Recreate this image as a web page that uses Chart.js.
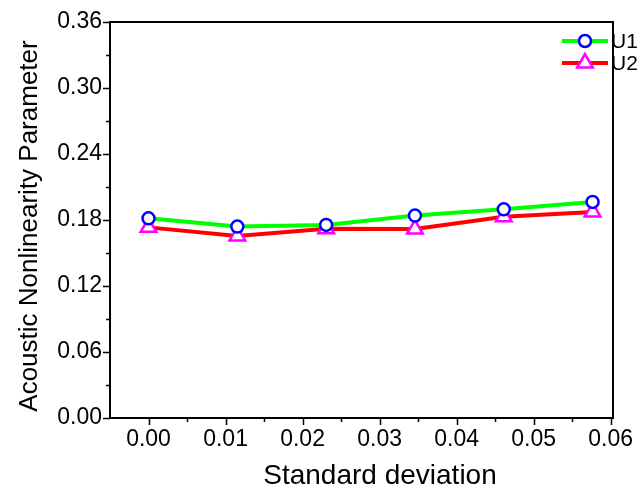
<!DOCTYPE html>
<html>
<head>
<meta charset="utf-8">
<script src="https://cdn.jsdelivr.net/npm/chart.js@4"></script>
<style>
  html, body { margin: 0; padding: 0; background: #fff; }
  #wrap { width: 643px; height: 495px; }
</style>
</head>
<body>
<div id="wrap"><canvas id="chart" width="643" height="495"></canvas></div>
<script>
// values
const stdDev = [0, 0.01153, 0.02306, 0.03459, 0.04612, 0.05765];
const u1 = [0.1815, 0.174, 0.1755, 0.184, 0.1897, 0.1964];
const u2 = [0.1733, 0.1655, 0.1721, 0.1718, 0.183, 0.1873];
const seriesNames = ["U1", "U2"];
const xTicks = [0, 0.01, 0.02, 0.03, 0.04, 0.05, 0.06];
const yTicks = [0, 0.06, 0.12, 0.18, 0.24, 0.30, 0.36];
const xTitle = "Standard deviation";
const yTitle = "Acoustic Nonlinearity Parameter";

const FONT = "'Liberation Sans', Arial, sans-serif";

const toPoints = (ys) => stdDev.map((x, i) => ({ x: x, y: ys[i] }));

// frame, major/minor ticks, axis titles and the little legend
const framePlugin = {
  id: "frame",
  afterDraw(chart) {
    const { ctx, chartArea: a, scales } = chart;
    ctx.save();
    ctx.strokeStyle = "#000";
    ctx.lineWidth = 2;
    ctx.strokeRect(a.left, a.top, a.right - a.left, a.bottom - a.top);

    ctx.lineWidth = 1.5;
    // x ticks, every 0.005
    for (let i = 0; i <= 12; i++) {
      const px = Math.round(scales.x.getPixelForValue(i * 0.005)) + 0.5;
      const len = i % 2 === 0 ? 7 : 4;
      ctx.beginPath();
      ctx.moveTo(px, a.bottom);
      ctx.lineTo(px, a.bottom + len);
      ctx.stroke();
    }
    // y ticks, every 0.03
    for (let i = 0; i <= 12; i++) {
      const py = Math.round(scales.y.getPixelForValue(i * 0.03)) + 0.5;
      const len = i % 2 === 0 ? 7 : 4;
      ctx.beginPath();
      ctx.moveTo(a.left, py);
      ctx.lineTo(a.left - len, py);
      ctx.stroke();
    }

    // axis titles (the original sits a bit off-centre)
    ctx.fillStyle = "#000";
    ctx.textAlign = "center";
    ctx.textBaseline = "middle";
    ctx.font = "28px " + FONT;
    ctx.fillText(xTitle, 380, 476);
    ctx.save();
    ctx.translate(30, 226);
    ctx.rotate(-Math.PI / 2);
    ctx.font = "26px " + FONT;
    ctx.fillText(yTitle, 0, 0);
    ctx.restore();

    // legend: line + marker + name
    const lx = a.right - 51, rowY = [a.top + 19, a.top + 41];
    chart.data.datasets.forEach((ds, i) => {
      const y = rowY[i];
      ctx.strokeStyle = ds.borderColor;
      ctx.lineWidth = ds.borderWidth;
      ctx.beginPath();
      ctx.moveTo(lx, y);
      ctx.lineTo(lx + 46, y);
      ctx.stroke();
      ctx.strokeStyle = ds.pointBorderColor;
      ctx.fillStyle = ds.pointBackgroundColor;
      ctx.lineWidth = ds.pointBorderWidth;
      Chart.helpers.drawPoint(ctx, {
        pointStyle: ds.pointStyle,
        radius: ds.pointRadius,
        borderWidth: ds.pointBorderWidth,
        rotation: 0
      }, lx + 23, y);
      ctx.fillStyle = "#000";
      ctx.font = "21px " + FONT;
      ctx.textBaseline = "middle";
      ctx.textAlign = "left";
      ctx.fillText(seriesNames[i], lx + 49, y + 1);
    });
    ctx.restore();
  }
};

new Chart(document.getElementById("chart"), {
  type: "line",
  data: {
    datasets: [
      {
        label: seriesNames[0],
        data: toPoints(u1),
        borderColor: "#00ff00",
        borderWidth: 4,
        pointStyle: "circle",
        pointRadius: 6,
        pointBorderWidth: 2.5,
        pointBorderColor: "#0000ff",
        pointBackgroundColor: "#ffffff",
        tension: 0
      },
      {
        label: seriesNames[1],
        data: toPoints(u2),
        borderColor: "#ff0000",
        borderWidth: 4,
        pointStyle: "triangle",
        pointRadius: 9,
        pointBorderWidth: 2.5,
        pointBorderColor: "#ff00ff",
        pointBackgroundColor: "#ffffff",
        tension: 0
      }
    ]
  },
  options: {
    responsive: false,
    animation: false,
    layout: { padding: { left: 0, top: 22, right: 30, bottom: 0 } },
    plugins: {
      legend: { display: false },
      tooltip: { enabled: false }
    },
    scales: {
      x: {
        type: "linear",
        min: -0.005,
        max: 0.0603,
        afterBuildTicks: (s) => { s.ticks = xTicks.map(v => ({ value: v })); },
        afterFit: (s) => { s.height = 77; },
        grid: { drawOnChartArea: false, drawTicks: false },
        border: { color: "#000", width: 2 },
        ticks: {
          padding: 8,
          color: "#000",
          font: { family: FONT, size: 23 },
          callback: (v) => v.toFixed(2)
        },
        title: { display: false }
      },
      y: {
        type: "linear",
        min: 0,
        max: 0.36,
        afterBuildTicks: (s) => { s.ticks = yTicks.map(v => ({ value: v })); },
        afterFit: (s) => { s.width = 110; },
        grid: { drawOnChartArea: false, drawTicks: false },
        border: { color: "#000", width: 2 },
        ticks: {
          padding: 8,
          color: "#000",
          font: { family: FONT, size: 23 },
          callback: (v) => v.toFixed(2)
        },
        title: { display: false }
      }
    }
  },
  plugins: [framePlugin]
});
</script>
</body>
</html>
